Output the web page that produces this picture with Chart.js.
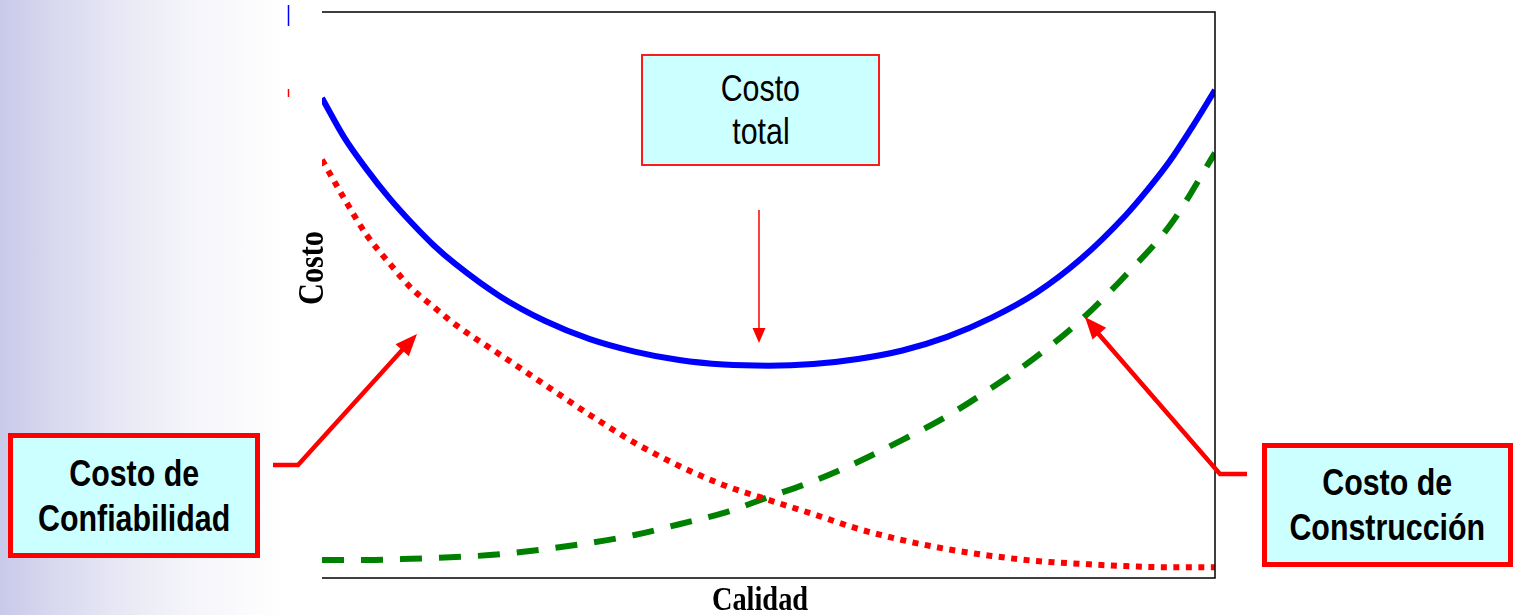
<!DOCTYPE html>
<html>
<head>
<meta charset="utf-8">
<script src="https://cdn.jsdelivr.net/npm/chart.js@4.4.1/dist/chart.umd.min.js"></script>
<style>
  html, body { margin:0; padding:0; }
  body {
    width:1516px; height:615px; position:relative; overflow:hidden;
    background: linear-gradient(to right, #c9c9ea 0px, #dadaf0 60px, #eaeaf6 130px, #f6f6fb 200px, #ffffff 285px);
  }
  #c { position:absolute; left:0; top:0; }
  .box {
    position:absolute; box-sizing:border-box; background:#ccffff;
    display:flex; flex-direction:column; justify-content:center; align-items:center;
    color:#000; font-family:"Liberation Sans", Arial, sans-serif;
  }
  .box span { display:block; transform:scaleX(0.82); white-space:nowrap; }
  #bTotal { left:641px; top:54px; width:239px; height:112px; border:2px solid #ff1a1a;
    font-size:37px; line-height:43px; }
  #bConf { left:8px; top:433px; width:252px; height:125px; border:5px solid #ff0000;
    font-size:37px; font-weight:bold; line-height:45px; }
  #bCons { left:1262px; top:443px; width:251px; height:124px; border:5px solid #ff0000;
    font-size:37px; font-weight:bold; line-height:45px; }
</style>
</head>
<body>
<canvas id="c" width="1516" height="615"></canvas>
<div class="box" id="bTotal"><span>Costo</span><span>total</span></div>
<div class="box" id="bConf"><span>Costo de</span><span>Confiabilidad</span></div>
<div class="box" id="bCons"><span>Costo de</span><span>Construcción</span></div>
<script>
// ---- data ----
const yAxisTitle = "Costo";
const xAxisTitle = "Calidad";

const xTotal = [0,2.5,5,7.5,10,12.5,15,20,25,30,35,40,45,50,55,60,65,70,75,80,85,90,92.5,95,97.5,100];
const costoTotal = [84.8,77.8,72.2,67.2,62.8,58.8,55.4,49.7,45.4,42.2,40.0,38.5,37.7,37.5,37.8,38.7,40.2,42.6,46.0,50.4,56.4,64.1,68.7,73.8,79.8,86.2];

const xConf = [0,2.5,5,7.5,10,12.5,15,20,25,30,35,40,45,50,55,60,65,70,75,80,85,90,95,100];
const costoConfiabilidad = [73.9,67.0,60.6,55.7,51.2,47.9,44.7,39.4,34.1,28.8,23.9,19.8,16.4,13.8,11.3,8.7,6.7,5.1,3.9,3.0,2.5,2.1,1.9,1.9];

const xCons = [0,5,10,15,20,25,30,35,40,45,50,55,60,65,70,75,80,85,90,95,100];
const costoConstruccion = [3.2,3.2,3.4,3.7,4.2,5.1,6.2,7.6,9.5,11.5,14.3,17.1,20.5,24.4,28.6,33.6,39.1,45.6,53.5,62.4,75.1];

const pts = (xs, ys) => xs.map((x, i) => ({x, y: ys[i]}));

function arrowHead(ctx, fx, fy, tx, ty, len, half) {
  const a = Math.atan2(ty - fy, tx - fx);
  ctx.beginPath();
  ctx.moveTo(tx, ty);
  ctx.lineTo(tx - len*Math.cos(a) + half*Math.sin(a), ty - len*Math.sin(a) - half*Math.cos(a));
  ctx.lineTo(tx - len*Math.cos(a) - half*Math.sin(a), ty - len*Math.sin(a) + half*Math.cos(a));
  ctx.closePath();
  ctx.fill();
}

const decor = {
  id: 'decor',
  afterDatasetsDraw(chart) {
    const {ctx, chartArea: a} = chart;
    ctx.save();
    // frame: top, right, bottom (no left line)
    ctx.strokeStyle = '#000';
    ctx.lineWidth = 1.5;
    ctx.beginPath();
    ctx.moveTo(a.left, a.top); ctx.lineTo(a.right, a.top);
    ctx.lineTo(a.right, a.bottom); ctx.lineTo(a.left, a.bottom);
    ctx.stroke();

    // small legend remnants
    ctx.lineWidth = 1.5;
    ctx.strokeStyle = '#0000ff';
    ctx.beginPath(); ctx.moveTo(288.5, 5); ctx.lineTo(288.5, 26); ctx.stroke();
    ctx.strokeStyle = '#ff0000';
    ctx.beginPath(); ctx.moveTo(288.5, 89); ctx.lineTo(288.5, 97); ctx.stroke();

    // arrows
    ctx.strokeStyle = '#ff0000';
    ctx.fillStyle = '#ff0000';
    ctx.lineJoin = 'miter';
    ctx.lineWidth = 1.5;
    ctx.beginPath(); ctx.moveTo(759, 210); ctx.lineTo(759, 330); ctx.stroke();
    arrowHead(ctx, 759, 210, 759, 343, 15, 6.5);
    ctx.lineWidth = 4.5;
    ctx.beginPath(); ctx.moveTo(273, 465); ctx.lineTo(298, 465); ctx.lineTo(404, 348); ctx.stroke();
    arrowHead(ctx, 298, 465, 417, 334, 22, 9);
    ctx.beginPath(); ctx.moveTo(1247, 474); ctx.lineTo(1220, 474); ctx.lineTo(1096, 331); ctx.stroke();
    arrowHead(ctx, 1220, 474, 1085, 317, 22, 9);

    // axis titles
    ctx.fillStyle = '#000';
    ctx.textAlign = 'center';
    ctx.textBaseline = 'alphabetic';
    ctx.font = 'bold 33px "Liberation Serif", "Times New Roman", serif';
    ctx.save();
    ctx.translate(760, 610);
    ctx.scale(0.86, 1);
    ctx.fillText(xAxisTitle, 0, 0);
    ctx.restore();
    ctx.font = 'bold 36px "Liberation Serif", "Times New Roman", serif';
    ctx.save();
    ctx.translate(323, 268);
    ctx.rotate(-Math.PI / 2);
    ctx.scale(0.84, 1);
    ctx.fillText(yAxisTitle, 0, 0);
    ctx.restore();
    ctx.restore();
  }
};

new Chart(document.getElementById('c'), {
  type: 'line',
  data: {
    datasets: [
      { label: 'Costo total', data: pts(xTotal, costoTotal), borderColor: '#0000ff',
        borderWidth: 6, pointRadius: 0, cubicInterpolationMode: 'monotone', clip: 0 },
      { label: 'Costo de Confiabilidad', data: pts(xConf, costoConfiabilidad), borderColor: '#ff0000',
        borderWidth: 6, borderDash: [6, 6.5], borderCapStyle: 'butt', pointRadius: 0,
        cubicInterpolationMode: 'monotone', clip: 0 },
      { label: 'Costo de Construcción', data: pts(xCons, costoConstruccion), borderColor: '#008000',
        borderWidth: 6, borderDash: [22, 17], borderCapStyle: 'butt', pointRadius: 0,
        cubicInterpolationMode: 'monotone', clip: 0 }
    ]
  },
  options: {
    responsive: false,
    animation: false,
    devicePixelRatio: 1,
    layout: { padding: { left: 322, top: 12, right: 301, bottom: 37 } },
    plugins: { legend: { display: false }, tooltip: { enabled: false } },
    scales: {
      x: { type: 'linear', min: 0, max: 100, display: false },
      y: { type: 'linear', min: 0, max: 100, display: false }
    }
  },
  plugins: [decor]
});
</script>
</body>
</html>
